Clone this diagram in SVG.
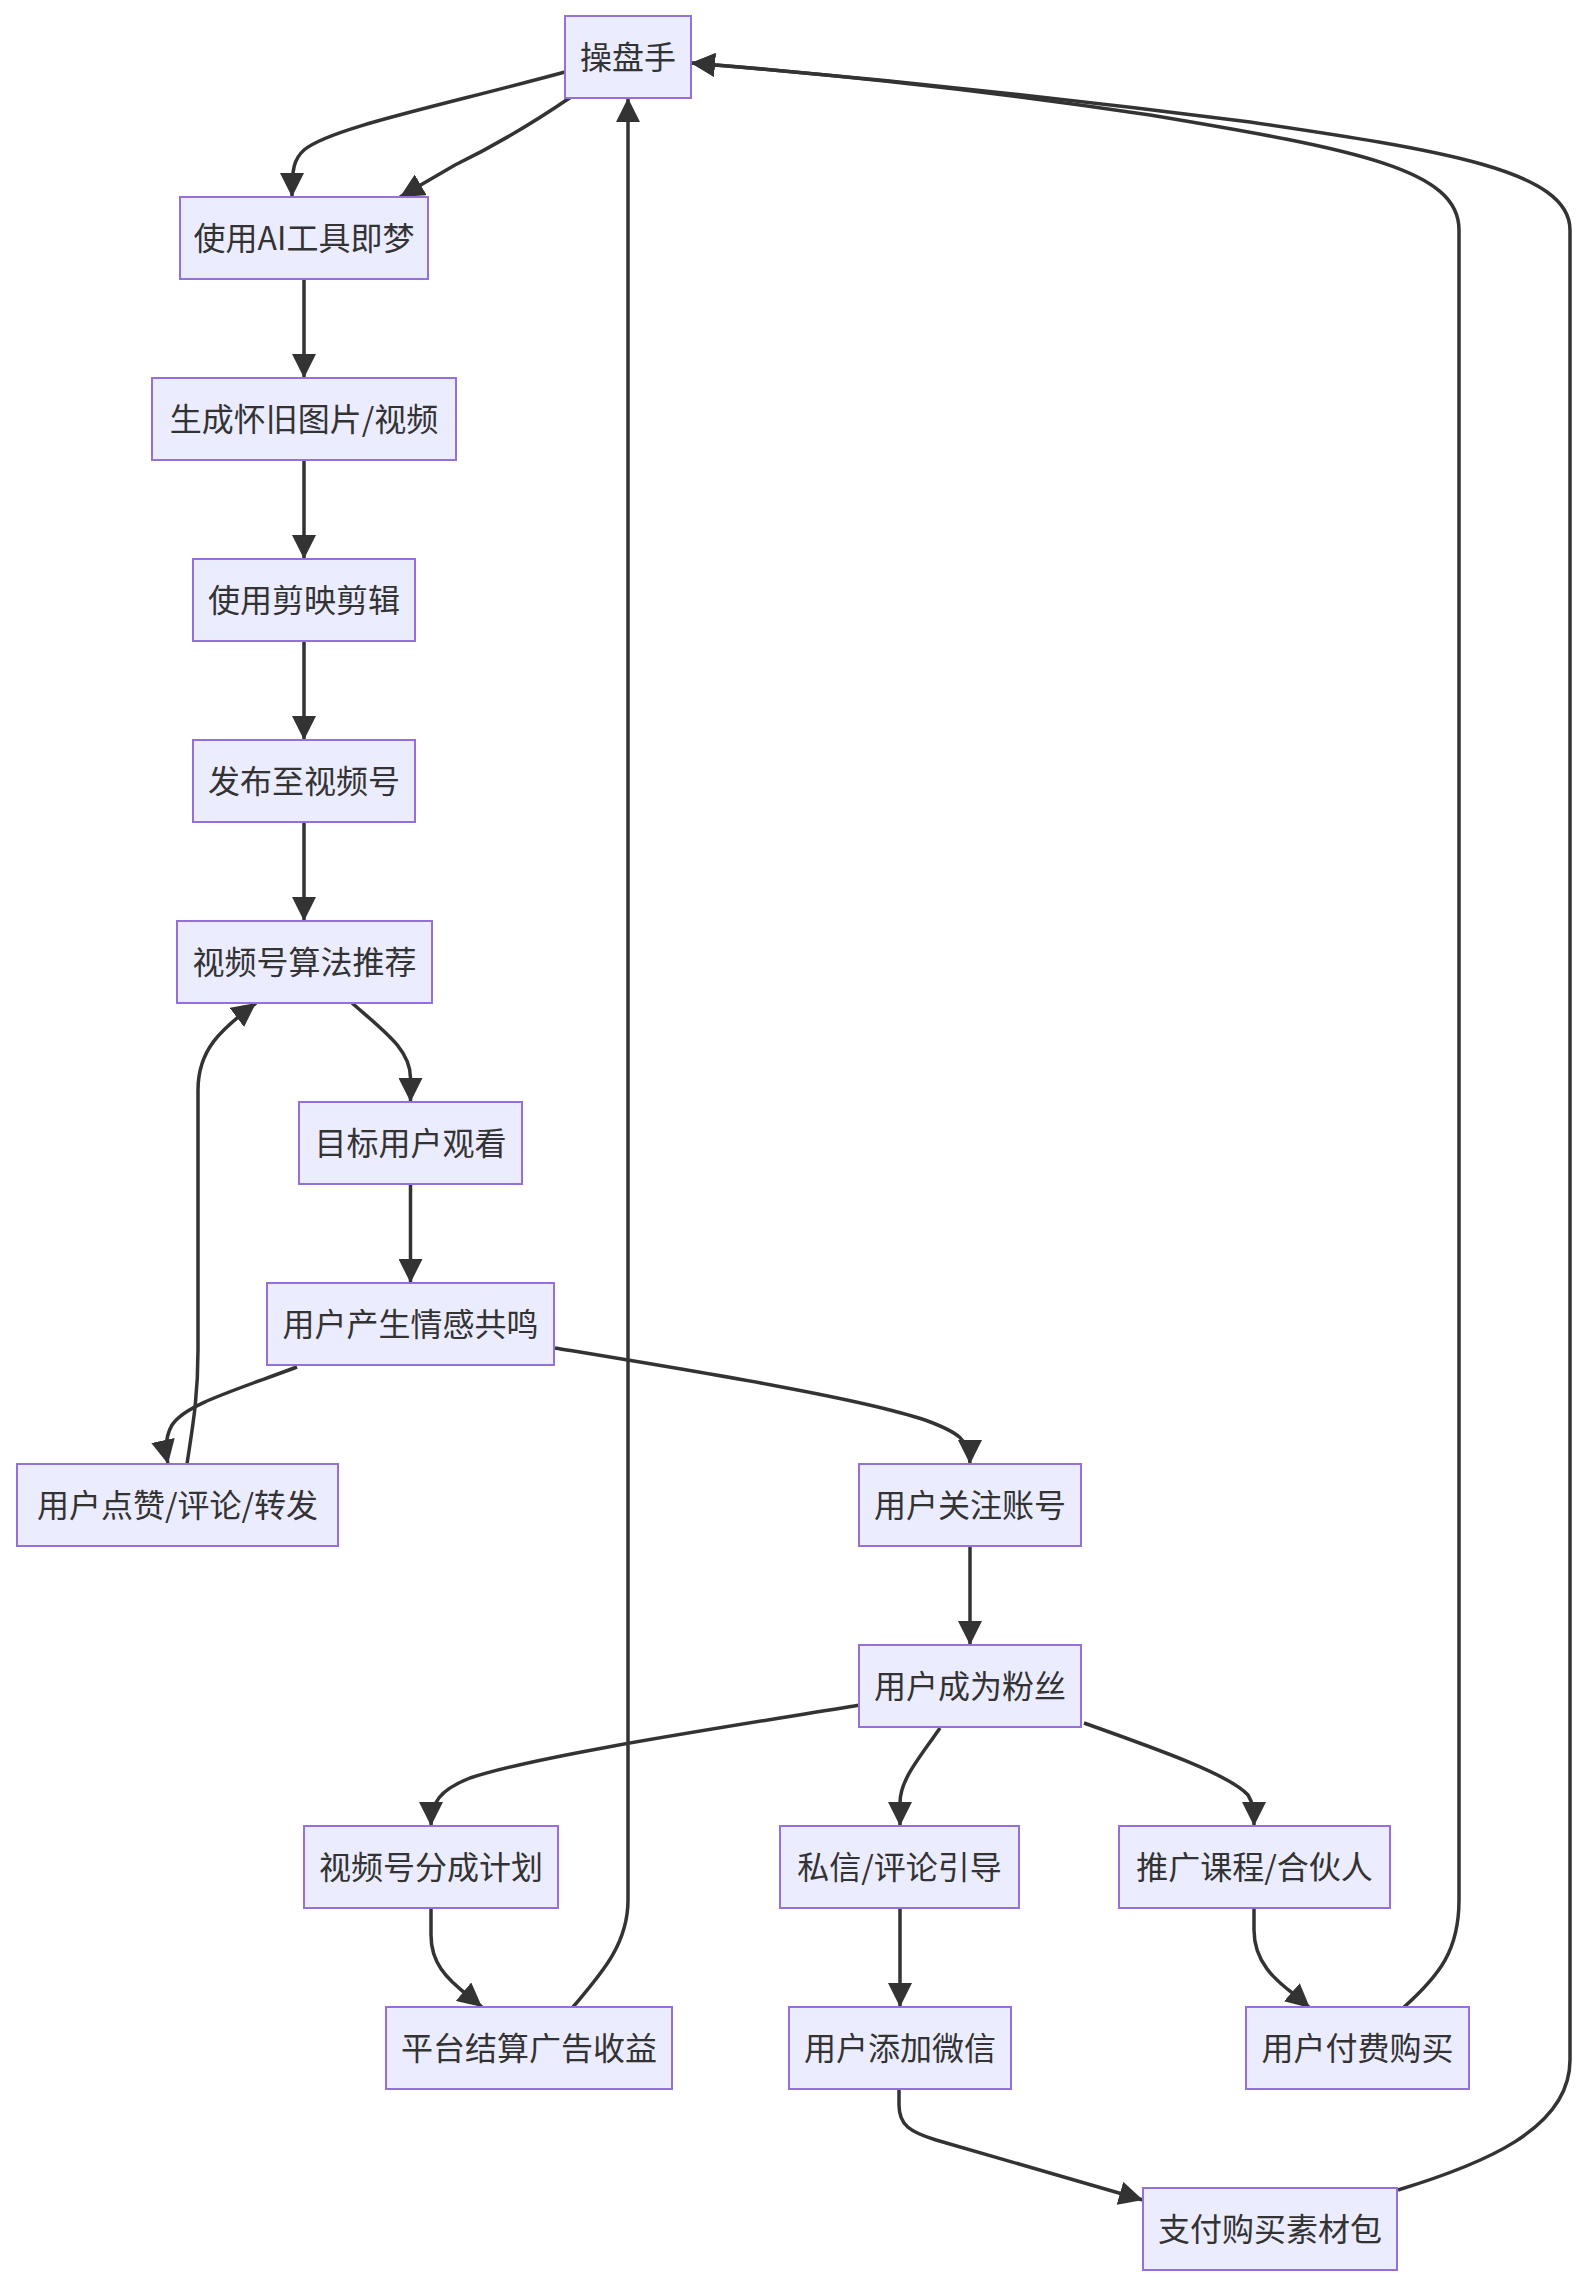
<svg xmlns="http://www.w3.org/2000/svg" width="1588" height="2290" viewBox="0 0 1588 2290">
<style>
.node rect{fill:#ECECFF;stroke:#9370DB;stroke-width:2}
.node text{font-family:"Noto Sans CJK SC","Noto Sans",sans-serif;font-size:32px;fill:#333333;text-anchor:middle;dominant-baseline:central}
.edge{fill:none;stroke:#333333;stroke-width:3.5;marker-end:url(#arrow)}
</style>
<defs>
<marker id="arrow" viewBox="0 0 10 10" refX="10" refY="5" markerUnits="userSpaceOnUse" markerWidth="24" markerHeight="24" orient="auto">
<path d="M0,0 L10,5 L0,10 z" fill="#333333"/>
</marker>
</defs>
<rect width="1588" height="2290" fill="#ffffff"/>
<g id="connectors">
<path class="edge" d="M565,72 C440,106 330,128 304,150 C294,159 292,168 292,197"/>
<path class="edge" d="M571,97 C530,125 490,148 455,165 L400,197"/>
<path class="edge" d="M304,279 L304,378"/>
<path class="edge" d="M304,460 L304,559"/>
<path class="edge" d="M304,641 L304,740"/>
<path class="edge" d="M304,822 L304,921"/>
<path class="edge" d="M352,1003 C385,1032 410.5,1050 410.5,1078 L410.5,1102"/>
<path class="edge" d="M410.5,1184 L410.5,1283"/>
<path class="edge" d="M297,1367 C230,1392 185,1405 172,1425 C165,1437 165,1450 168,1464"/>
<path class="edge" d="M187,1464 C192,1430 198,1400 198,1350 L198,1090 C198,1050 220,1030 256,1003"/>
<path class="edge" d="M555,1348 C700,1372 860,1398 925,1420 C958,1432 970,1440 970,1464"/>
<path class="edge" d="M970,1546 L970,1645"/>
<path class="edge" d="M860,1705 C720,1728 540,1755 470,1778 C440,1790 431,1802 431,1826"/>
<path class="edge" d="M940,1728 C918,1760 900,1780 900,1803 L900,1826"/>
<path class="edge" d="M1084,1723 C1160,1750 1230,1775 1248,1795 C1253,1803 1254,1810 1254,1826"/>
<path class="edge" d="M431,1908 L431,1935 C431,1962 445,1978 470,1997 L482,2007"/>
<path class="edge" d="M573,2007 C600,1975 628,1945 628,1900 L628,98"/>
<path class="edge" d="M900,1908 L900,2007"/>
<path class="edge" d="M1254,1908 L1254,1930 C1254,1962 1275,1980 1295,1995 L1310,2008"/>
<path class="edge" d="M1403,2008 C1440,1975 1459,1950 1459,1900 L1459,230 C1459,170 1360,150 1150,115 C950,85 780,70 691,63"/>
<path class="edge" d="M899,2089 L899,2105 C899,2125 910,2132 936,2140 L1143,2200"/>
<path class="edge" d="M1398,2190 C1480,2165 1570,2130 1570,2060 L1570,230 C1570,170 1440,150 1250,122 C1000,90 800,72 691,63"/>
</g>
<g id="n1" class="node"><rect x="565" y="16" width="126" height="82"/><text x="628" y="55">操盘手</text></g>
<g id="n2" class="node"><rect x="180" y="197" width="248" height="82"/><text x="304" y="236">使用AI工具即梦</text></g>
<g id="n3" class="node"><rect x="152" y="378" width="304" height="82"/><text x="304" y="417">生成怀旧图片/视频</text></g>
<g id="n4" class="node"><rect x="193" y="559" width="222" height="82"/><text x="304" y="598">使用剪映剪辑</text></g>
<g id="n5" class="node"><rect x="193" y="740" width="222" height="82"/><text x="304" y="779">发布至视频号</text></g>
<g id="n6" class="node"><rect x="177" y="921" width="255" height="82"/><text x="304.5" y="960">视频号算法推荐</text></g>
<g id="n7" class="node"><rect x="299" y="1102" width="223" height="82"/><text x="410.5" y="1141">目标用户观看</text></g>
<g id="n8" class="node"><rect x="267" y="1283" width="287" height="82"/><text x="410.5" y="1322">用户产生情感共鸣</text></g>
<g id="n9" class="node"><rect x="17" y="1464" width="321" height="82"/><text x="177.5" y="1503">用户点赞/评论/转发</text></g>
<g id="n10" class="node"><rect x="859" y="1464" width="222" height="82"/><text x="970" y="1503">用户关注账号</text></g>
<g id="n11" class="node"><rect x="859" y="1645" width="222" height="82"/><text x="970" y="1684">用户成为粉丝</text></g>
<g id="n12" class="node"><rect x="304" y="1826" width="254" height="82"/><text x="431" y="1865">视频号分成计划</text></g>
<g id="n13" class="node"><rect x="780" y="1826" width="239" height="82"/><text x="899.5" y="1865">私信/评论引导</text></g>
<g id="n14" class="node"><rect x="1119" y="1826" width="271" height="82"/><text x="1254.5" y="1865">推广课程/合伙人</text></g>
<g id="n15" class="node"><rect x="386" y="2007" width="286" height="82"/><text x="529" y="2046">平台结算广告收益</text></g>
<g id="n16" class="node"><rect x="789" y="2007" width="222" height="82"/><text x="900" y="2046">用户添加微信</text></g>
<g id="n17" class="node"><rect x="1246" y="2007" width="223" height="82"/><text x="1357.5" y="2046">用户付费购买</text></g>
<g id="n18" class="node"><rect x="1143" y="2188" width="254" height="82"/><text x="1270" y="2227">支付购买素材包</text></g>
</svg>
